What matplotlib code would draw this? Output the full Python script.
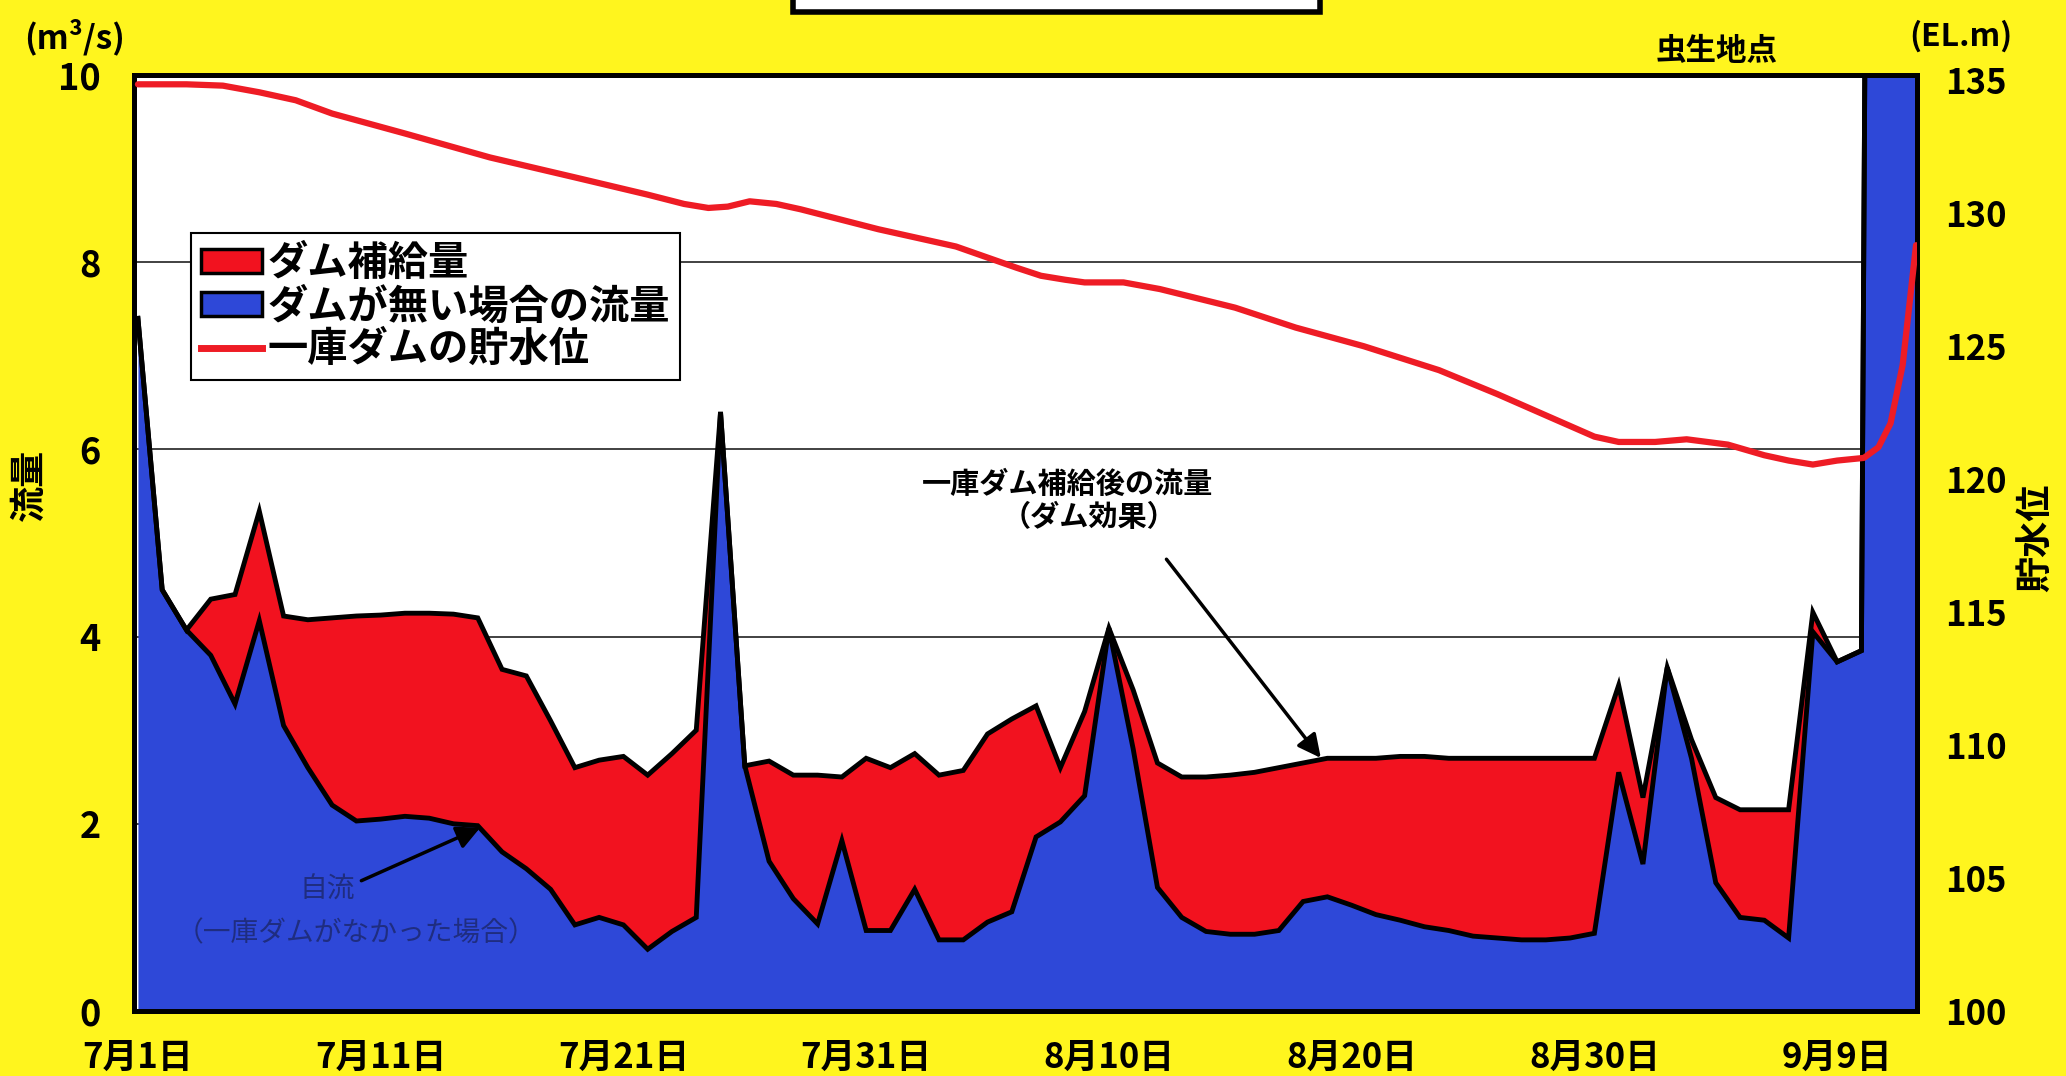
import matplotlib.pyplot as plt
from matplotlib.patches import Patch, Rectangle
from matplotlib.lines import Line2D

plt.rcParams['font.family'] = ['Noto Sans CJK JP', 'DejaVu Sans']

# days counted from 7/1 (= 0)
days = list(range(72)) + [71.15, 73.3]

# flow without the dam (m3/s)
natural = [7.4, 4.5, 4.07, 3.8, 3.28, 4.17, 3.05, 2.6, 2.2, 2.03,
           2.05, 2.08, 2.06, 2.0, 1.98, 1.7, 1.52, 1.3, 0.92, 1.0,
           0.92, 0.66, 0.85, 1.0, 6.4, 2.62, 1.6, 1.2, 0.93, 1.82,
           0.86, 0.86, 1.3, 0.76, 0.76, 0.95, 1.06, 1.86, 2.02, 2.3,
           4.09, 2.8, 1.32, 1.0, 0.85, 0.82, 0.82, 0.86, 1.17, 1.22,
           1.13, 1.03, 0.97, 0.9, 0.86, 0.8, 0.78, 0.76, 0.76, 0.78,
           0.83, 2.55, 1.57, 3.67, 2.7, 1.37, 1.0, 0.97, 0.78, 4.05,
           3.73, 3.85, 10.5, 10.5]

# flow after dam supply (m3/s)
supplied = [7.4, 4.5, 4.07, 4.4, 4.45, 5.34, 4.22, 4.18, 4.2, 4.22,
            4.23, 4.25, 4.25, 4.24, 4.2, 3.65, 3.58, 3.1, 2.6, 2.68,
            2.72, 2.52, 2.75, 3.0, 6.4, 2.62, 2.67, 2.52, 2.52, 2.5,
            2.7, 2.6, 2.75, 2.52, 2.57, 2.96, 3.12, 3.26, 2.6, 3.2,
            4.09, 3.43, 2.65, 2.5, 2.5, 2.52, 2.55, 2.6, 2.65, 2.7,
            2.7, 2.7, 2.72, 2.72, 2.7, 2.7, 2.7, 2.7, 2.7, 2.7,
            2.7, 3.48, 2.28, 3.67, 2.9, 2.28, 2.15, 2.15, 2.15, 4.26,
            3.73, 3.85, 10.5, 10.5]

# reservoir level (EL.m)
level_days = [0, 2, 3.5, 5, 6.5, 8, 11, 14.5, 18, 21, 22.5, 23.5, 24.3,
              25.2, 26.3, 27.3, 30.5, 33.7, 36.2, 37.2, 38.2, 39, 40.6,
              42.1, 45.2, 47.7, 50.5, 53.6, 56, 58, 60, 61, 62.5, 63.8,
              65.5, 67, 68, 69, 70, 71.1, 71.7, 72.2, 72.7, 73.25]
level = [134.85, 134.85, 134.8, 134.55, 134.25, 133.75, 133.0, 132.1,
         131.35, 130.7, 130.35, 130.2, 130.25, 130.45, 130.35, 130.15,
         129.4, 128.75, 127.95, 127.65, 127.5, 127.4, 127.4, 127.15,
         126.45, 125.7, 125.0, 124.1, 123.2, 122.4, 121.6, 121.4, 121.4,
         121.5, 121.3, 120.9, 120.7, 120.55, 120.7, 120.8, 121.2, 122.1,
         124.3, 128.8]

xtick_days = [0, 10, 20, 30, 40, 50, 60, 70]
xtick_labels = ['7月1日', '7月11日', '7月21日', '7月31日',
                '8月10日', '8月20日', '8月30日', '9月9日']

BLUE = '#2E48D8'
RED = '#F2121F'
YELLOW = '#FFF51E'

fig = plt.figure(figsize=(20.66, 10.76), dpi=100, facecolor=YELLOW)
ax = fig.add_axes([0.065, 0.0604, 0.863, 0.8699])
ax.set_facecolor('white')

ax.fill_between(days, 0, natural, color=BLUE, lw=0, zorder=2)
ax.fill_between(days, natural, supplied, color=RED, lw=0, zorder=2)
ax.plot(days, natural, color='black', lw=3.5, zorder=3, solid_joinstyle='miter')
ax.plot(days, supplied, color='black', lw=3.5, zorder=3, solid_joinstyle='miter')

ax.set_xlim(-0.15, 73.3)
ax.set_ylim(0, 10)
ax.set_yticks([0, 2, 4, 6, 8, 10])
ax.set_xticks(xtick_days)
ax.set_xticklabels(xtick_labels)
ax.grid(axis='y', color='#333333', lw=1.3)
ax.set_axisbelow(True)
ax.tick_params(axis='x', length=0, pad=21, labelsize=25)
ax.tick_params(axis='y', length=0, pad=24, labelsize=26)
for lab in ax.get_xticklabels() + ax.get_yticklabels():
    lab.set_fontweight('bold')
for sp in ax.spines.values():
    sp.set_linewidth(3.5)

ax2 = ax.twinx()
ax2.plot(level_days, level, color='#EE1C25', lw=4.5, zorder=5,
         solid_joinstyle='round', solid_capstyle='round')
ax2.set_ylim(100, 135.2)
ax2.set_yticks([100, 105, 110, 115, 120, 125, 130, 135])
ax2.tick_params(axis='y', length=0, pad=20, labelsize=25)
for lab in ax2.get_yticklabels():
    lab.set_fontweight('bold')
for sp in ax2.spines.values():
    sp.set_linewidth(3.5)

handles = [Patch(facecolor=RED, edgecolor='black', lw=2.5),
           Patch(facecolor=BLUE, edgecolor='black', lw=2.5),
           Line2D([], [], color='#EE1C25', lw=5)]
labels = ['ダム補給量', 'ダムが無い場合の流量', '一庫ダムの貯水位']
leg = ax2.legend(handles, labels, loc='upper left', bbox_to_anchor=(0.032, 0.831),
                 fancybox=False, framealpha=1, edgecolor='black',
                 prop={'size': 29, 'weight': 'bold'}, handlelength=1.5,
                 handleheight=0.55, handletextpad=0.15, labelspacing=0.05,
                 borderpad=0.25, borderaxespad=0)
leg.get_frame().set_linewidth(1.5)

# annotations
ax.annotate('', xy=(48.8, 2.68), xytext=(42.3, 4.85),
            arrowprops=dict(arrowstyle='-|>', color='black', lw=2.5,
                            mutation_scale=35), zorder=6)
ax.text(38.3, 5.63, '一庫ダム補給後の流量', ha='center', va='center',
        fontsize=21, fontweight='bold', zorder=6)
ax.text(39.2, 5.28, '（ダム効果）', ha='center', va='center',
        fontsize=21, fontweight='bold', zorder=6)

ax.annotate('', xy=(14.2, 1.97), xytext=(9.1, 1.38),
            arrowprops=dict(arrowstyle='-|>', color='black', lw=2.5,
                            mutation_scale=35), zorder=6)
ax.text(7.8, 1.3, '自流', ha='center', va='center', fontsize=20,
        color='#1F2D80', zorder=6)
ax.text(9.0, 0.83, '（一庫ダムがなかった場合）', ha='center', va='center',
        fontsize=20, color='#1F2D80', zorder=6)

# outer labels
fig.text(0.036, 0.966, '(m³/s)', ha='center', va='center', fontsize=24, fontweight='bold')
fig.text(0.949, 0.966, '(EL.m)', ha='center', va='center', fontsize=23, fontweight='bold')
fig.text(0.831, 0.953, '虫生地点', ha='center', va='center', fontsize=22, fontweight='bold')
fig.text(0.014, 0.549, '流量', ha='center', va='center', rotation=90,
         fontsize=26, fontweight='bold')
fig.text(0.986, 0.50, '貯水位', ha='center', va='center', rotation=90,
         fontsize=26, fontweight='bold')

# title box (cut off at top)
fig.patches.append(Rectangle((0.384, 0.989), 0.255, 0.06, transform=fig.transFigure,
                             facecolor='white', edgecolor='black', lw=4))

fig.savefig('out.png', dpi=100, facecolor=YELLOW)
